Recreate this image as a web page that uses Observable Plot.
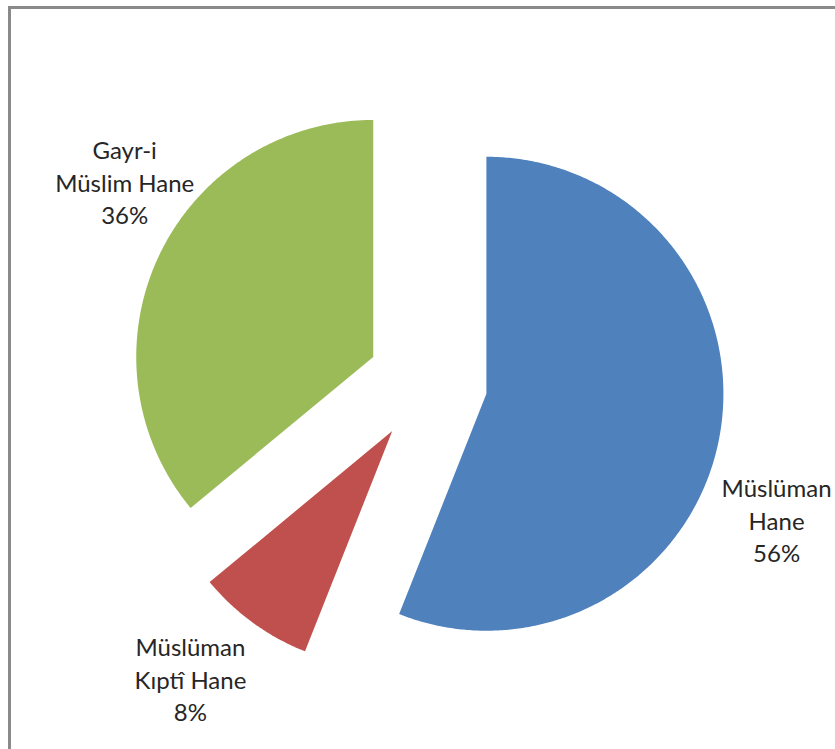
<!DOCTYPE html>
<html>
<head>
<meta charset="utf-8">
<script src="https://cdn.jsdelivr.net/npm/d3@7"></script>
<script src="https://cdn.jsdelivr.net/npm/@observablehq/plot@0.6"></script>
<style>
  html, body { margin: 0; padding: 0; background: #fff; overflow: hidden; }
  #frame { position: absolute; left: 8px; top: 6px; width: 900px; height: 800px;
           border: 3px solid #8a8a8a; box-sizing: border-box; }
  #chart { position: absolute; left: 0; top: 0; }
</style>
</head>
<body>
<div id="frame"></div>
<div id="chart"></div>
<script>
// ---- data ----
const categories = ["Müslüman Hane", "Müslüman Kıptî Hane", "Gayr-i Müslim Hane"];
const labelNames = ["Müslüman\nHane", "Müslüman\nKıptî Hane", "Gayr-i\nMüslim Hane"];
const values = [56, 8, 36];
const colors = ["#4F81BD", "#C0504D", "#9BBB59"];

// ---- layout ----
const W = 835, H = 749;
const cx = 427, cy = 382, R = 237;      // pie center and radius (px)
const explode = 0.253;                  // fraction of radius
const labelNudge = [10.6, 2.7, 8.4];    // degrees added to mid angle for labels
const labelRadius = [1.582, 1.600, 1.534];

const total = d3.sum(values);
const arcs = d3.pie().sort(null).value(d => d)(values);

const slicePts = [];
const labels = [];
arcs.forEach((a, i) => {
  const mid = (a.startAngle + a.endAngle) / 2;
  const ox = explode * Math.sin(mid), oy = -explode * Math.cos(mid);
  slicePts.push({name: categories[i], x: ox, y: oy});
  const n = Math.max(4, Math.ceil((a.endAngle - a.startAngle) / (Math.PI / 360)));
  for (let k = 0; k <= n; k++) {
    const t = a.startAngle + (a.endAngle - a.startAngle) * k / n;
    slicePts.push({name: categories[i], x: ox + Math.sin(t), y: oy - Math.cos(t)});
  }
  slicePts.push({name: categories[i], x: ox, y: oy});
  const la = mid + labelNudge[i] * Math.PI / 180;
  labels.push({
    name: categories[i],
    x: labelRadius[i] * Math.sin(la),
    y: -labelRadius[i] * Math.cos(la),
    text: labelNames[i] + "\n" + Math.round(values[i] / total * 100) + "%"
  });
});

const chart = Plot.plot({
  width: W, height: H,
  margin: 0,
  x: {domain: [-cx / R, (W - cx) / R], range: [0, W], axis: null},
  y: {domain: [-cy / R, (H - cy) / R], range: [0, H], axis: null},
  color: {domain: categories, range: colors},
  style: {background: "transparent"},
  marks: [
    Plot.line(slicePts, {x: "x", y: "y", z: "name", fill: "name", stroke: "none", curve: "linear"}),
    Plot.text(labels, {x: "x", y: "y", text: "text", fontSize: 24, lineHeight: 1.355,
      fill: "#262626", fontFamily: "Lato, 'Open Sans', sans-serif", lineAnchor: "middle"})
  ]
});
document.getElementById("chart").appendChild(chart);
</script>
</body>
</html>
